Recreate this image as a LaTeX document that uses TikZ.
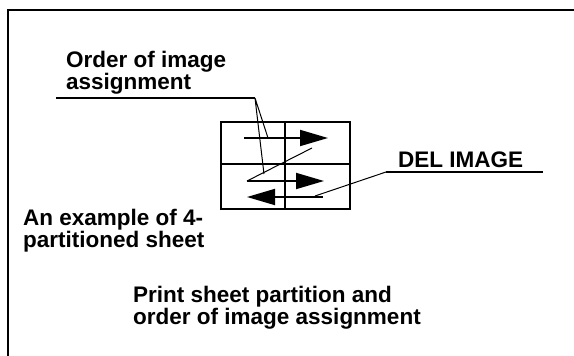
\documentclass[tikz,border=0pt]{standalone}
\usepackage{fontspec}
\setmainfont{Liberation Sans}
\usetikzlibrary{arrows.meta}
\begin{document}
\begin{tikzpicture}[x=1pt,y=-1pt,
  lbl/.style={anchor=base west,inner sep=0pt,font=\fontsize{22.5}{22}\selectfont\bfseries,align=left},
  frame/.style={line width=2pt},
  grid/.style={line width=2pt},
  flow/.style={line width=1.8pt,-{Triangle[length=28pt,width=16pt]}},
  lead/.style={line width=1pt},
  under/.style={line width=2pt}]
\useasboundingbox (0,0) rectangle (574,356);
% frame (open right and bottom)
\draw[frame] (8,357) -- (8,10) -- (575,10);
% grid
\draw[grid] (221,122) rectangle (350,209);
\draw[grid] (285,122) -- (285,209);
\draw[grid] (221,164) -- (350,164);
% order arrows
\coordinate (a1s) at (244,138); \coordinate (a1e) at (328,138);
\coordinate (d1) at (312,148); \coordinate (a2s) at (247,181); \coordinate (a2e) at (324,181);
\coordinate (a3s) at (323,197); \coordinate (a3e) at (247,197);
\draw[flow] (a1s) -- (a1e);
\draw[lead] (d1) -- (a2s);
\draw[flow] (a2s) -- (a2e);
\draw[flow] (a3s) -- (a3e);
% labels (base = baseline of the last line)
\node[lbl] (order) at (66,89) {Order of image\\assignment};
\node[lbl] (del) at (398,167) {DEL IMAGE};
\node[lbl] (ex) at (23,247) {An example of 4-\\partitioned sheet};
\node[lbl] (cap) at (133,324) {Print sheet partition and\\order of image assignment};
% leaders
\coordinate (o1) at (56,98); \coordinate (o2) at (255,98);
\coordinate (t1) at (268,138); \coordinate (t2) at (264,174);
\draw[under] (o1) -- (o2);
\draw[lead] (t1) -- (o2) -- (t2);
\coordinate (e1) at (543,172); \coordinate (e2) at (386,172); \coordinate (e3) at (315,196);
\draw[under] (e1) -- (e2);
\draw[lead] (e2) -- (e3);
\end{tikzpicture}
\end{document}
